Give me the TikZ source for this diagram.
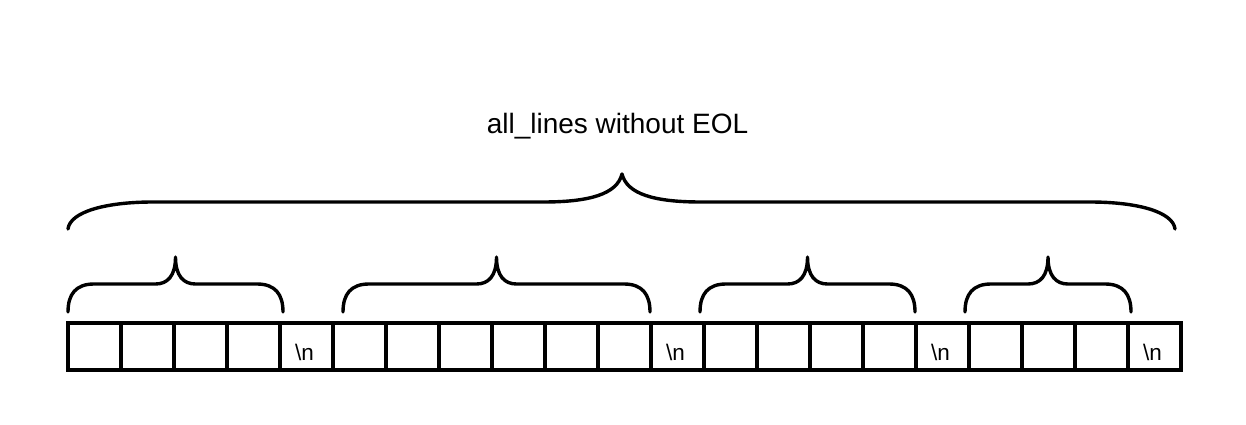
\documentclass[tikz,border=0pt]{standalone}
\usepackage{fontspec}
\setmainfont{Liberation Sans}
\usetikzlibrary{calc}
\begin{document}
\begin{tikzpicture}[x=1pt,y=-1pt,
  cell/.style={draw, line width=3.2pt, minimum width=53pt, minimum height=47pt, inner sep=0pt, outer sep=0pt},
  eol/.style={font=\fontsize{22.5}{22.5}\selectfont, inner sep=0pt, anchor=base},
  brace/.style={line width=3.4pt, line cap=round, line join=round},
  title/.style={font=\fontsize{28}{28}\selectfont, inner sep=0pt, anchor=base}]
\useasboundingbox (0,0) rectangle (1246,425);
% cells
\foreach \i in {1,...,21} {
  \node[cell] (c\i) at ({68+53*(\i-0.5)},346.5) {};
}
\foreach \i in {5,12,17,21} {
  \node[eol] (n\i) at ($(c\i.center)+(-2,13.5)$) {\textbackslash n};
}
% small braces
\foreach \a/\b/\nm in {68/283/b1, 343/650/b2, 700/915/b3, 965/1131/b4} {
  \pgfmathsetmacro{\m}{(\a+\b)/2}
  \coordinate (\nm) at (\m,257);
  \draw[brace] (\a,312) .. controls (\a,294) and (\a+8,284) .. (\a+26,284)
    -- (\m-20,284) .. controls (\m-8,284) and (\m,276) .. (\nm)
    .. controls (\m,276) and (\m+8,284) .. (\m+20,284)
    -- (\b-26,284) .. controls (\b-8,284) and (\b,294) .. (\b,312);
}
% big brace
\coordinate (top) at (622,174);
\draw[brace] (68,229) .. controls (70,212) and (105,202) .. (153,202)
  -- (543,202) .. controls (590,202) and (617,194) .. (top)
  .. controls (627,194) and (654,202) .. (701,202)
  -- (1090,202) .. controls (1138,202) and (1173,212) .. (1175,229);
\node[title] (t) at (617.5,133) {all\_lines without EOL};
\end{tikzpicture}
\end{document}
